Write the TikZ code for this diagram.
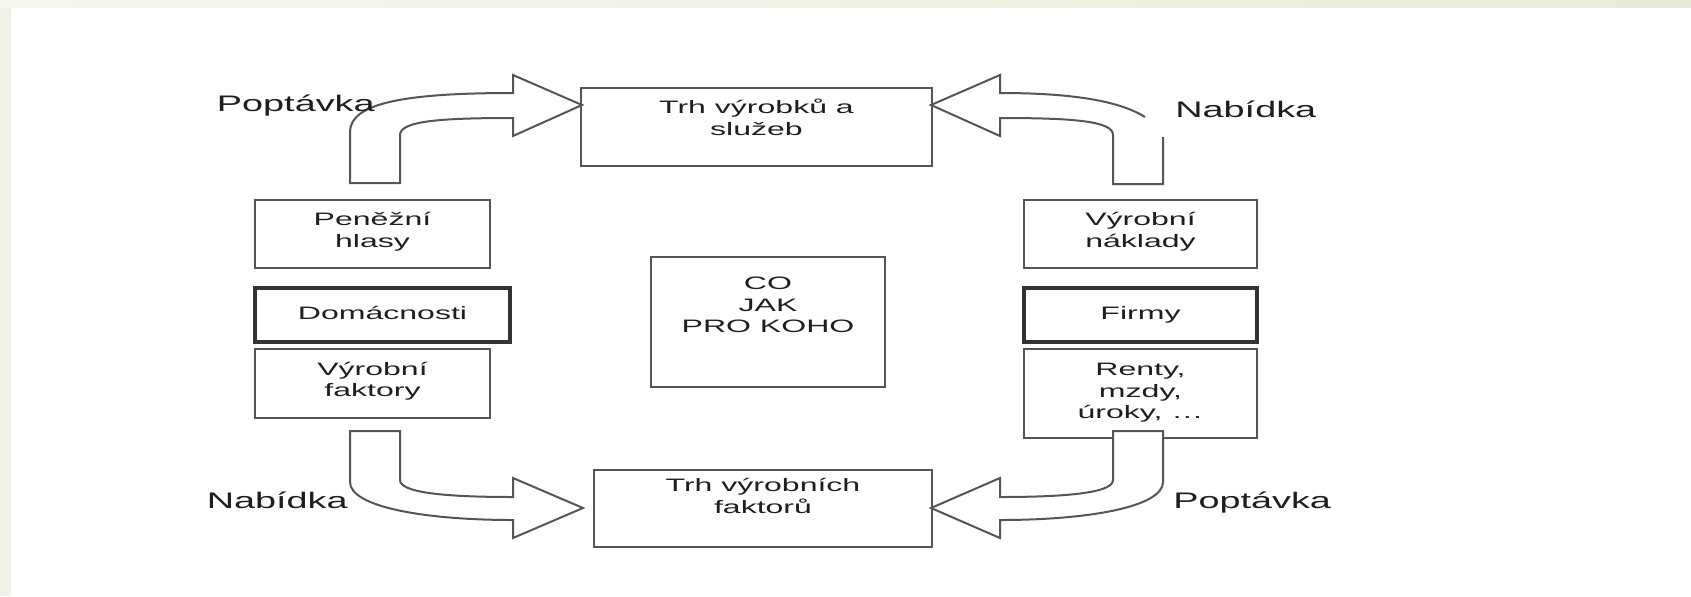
\documentclass[tikz,border=0pt]{standalone}
\usepackage{fontspec}
\setmainfont{Liberation Sans}
\newfontfamily\boxfont[FakeStretch=1.78]{Liberation Sans}
\newfontfamily\tagfont[FakeStretch=1.68]{Liberation Sans}
\usetikzlibrary{positioning}
\definecolor{linegray}{RGB}{85,85,85}
\definecolor{textdark}{RGB}{30,30,34}
\definecolor{slidegreen}{RGB}{239,242,229}
\definecolor{slidegreenL}{RGB}{245,247,238}
\definecolor{slidegreenR}{RGB}{230,236,215}
\tikzset{x=0.5pt, y=-0.5pt, every node/.style={inner sep=0pt, text=textdark},
	box/.style={draw=linegray, line width=1pt, rectangle, fill=white},
	heavy box/.style={box, draw=black!80, line width=1.6pt},
	box text/.style={font=\boxfont\fontsize{9}{10.75}\selectfont, align=center, anchor=base},
	flow tag/.style={font=\tagfont\fontsize{11.25}{13}\selectfont},
	fat arrow/.style={draw=linegray, line width=1pt, fill=white, line join=miter}}

\begin{document}
\begin{tikzpicture}
	% slide background
	\fill[white] (0,0) rectangle (1691,596);
	\fill[slidegreen] (0,0) rectangle (11,596);
	\shade[left color=slidegreenL, right color=slidegreenR] (0,0) rectangle (1691,7);
	\useasboundingbox (0,0) rectangle (1691,596);

	% markets
	\node[box, minimum width=175.5pt, minimum height=39pt] (Trh vyrobku) at (756.5,127) {};
	\node[box, minimum width=169pt, minimum height=38.5pt] (Trh faktoru) at (763,508.5) {};
	\node[box, line width=1.2pt, minimum width=117pt, minimum height=65pt] (Otazky) at (768,322) {};

	% households
	\node[box, minimum width=117.5pt, minimum height=34pt] (Penezni hlasy) at (372.5,234) {};
	\node[heavy box, minimum width=127.5pt, minimum height=27pt] (Domacnosti) at (382.5,315) {};
	\node[box, minimum width=117.5pt, minimum height=34.5pt] (Vyrobni faktory) at (372.5,383.5) {};

	% firms
	\node[box, minimum width=116.5pt, minimum height=34pt] (Vyrobni naklady) at (1140.5,234) {};
	\node[heavy box, minimum width=116.5pt, minimum height=27pt] (Firmy) at (1140.5,315) {};
	\node[box, minimum width=116.5pt, minimum height=44.5pt] (Renty) at (1140.5,393.5) {};

	% flows
	\draw[fat arrow] (350,183) -- (350,132) .. controls (350,103) and (405,93) .. (513,93)
		-- (513,75) -- (582,105) -- (513,136) -- (513,118)
		.. controls (440,118) and (400,121) .. (400,135) -- (400,183) -- cycle;
	\draw[fat arrow, fill=none] (1163,137) -- (1163,184) -- (1113,184) -- (1113,135)
		.. controls (1113,121) and (1073,118) .. (1000,118) -- (1000,136) -- (931,105)
		-- (1000,75) -- (1000,93) .. controls (1068,93) and (1118,100) .. (1145,117);
	\draw[fat arrow] (350,431) -- (400,431) -- (400,480)
		.. controls (400,492) and (440,497) .. (513,497) -- (513,478) -- (583,508)
		-- (513,538) -- (513,520) .. controls (425,520) and (350,507) .. (350,482) -- cycle;
	\draw[fat arrow] (1163,431) -- (1113,431) -- (1113,480)
		.. controls (1113,492) and (1073,497) .. (1000,497) -- (1000,478) -- (931,508)
		-- (1000,538) -- (1000,520) .. controls (1088,520) and (1163,507) .. (1163,482) -- cycle;

	% texts (anchored at the base of the last line)
	\node[box text] (Trh vyrobku text) at (756.5,135) {Trh výrobků a\\služeb};
	\node[box text] (Trh faktoru text) at (763,513) {Trh výrobních\\faktorů};
	\node[box text] (Otazky text) at (768,332.5) {CO\\JAK\\PRO KOHO};
	\node[box text] (Penezni text) at (372.5,247) {Peněžní\\hlasy};
	\node[box text] (Domacnosti text) at (382.5,319.5) {Domácnosti};
	\node[box text] (Faktory text) at (372.5,396.5) {Výrobní\\faktory};
	\node[box text] (Naklady text) at (1140.5,247) {Výrobní\\náklady};
	\node[box text] (Firmy text) at (1140.5,319.5) {Firmy};
	\node[box text] (Renty text) at (1140.5,418.5) {Renty,\\mzdy,\\úroky, \dots};

	\node[flow tag, anchor=base east] (Poptavka horni) at (375,111) {Poptávka};
	\node[flow tag, anchor=base west] (Nabidka horni) at (1175,117) {Nabídka};
	\node[flow tag, anchor=base east] (Nabidka dolni) at (348,508) {Nabídka};
	\node[flow tag, anchor=base west] (Poptavka dolni) at (1173,508) {Poptávka};
\end{tikzpicture}
\end{document}
